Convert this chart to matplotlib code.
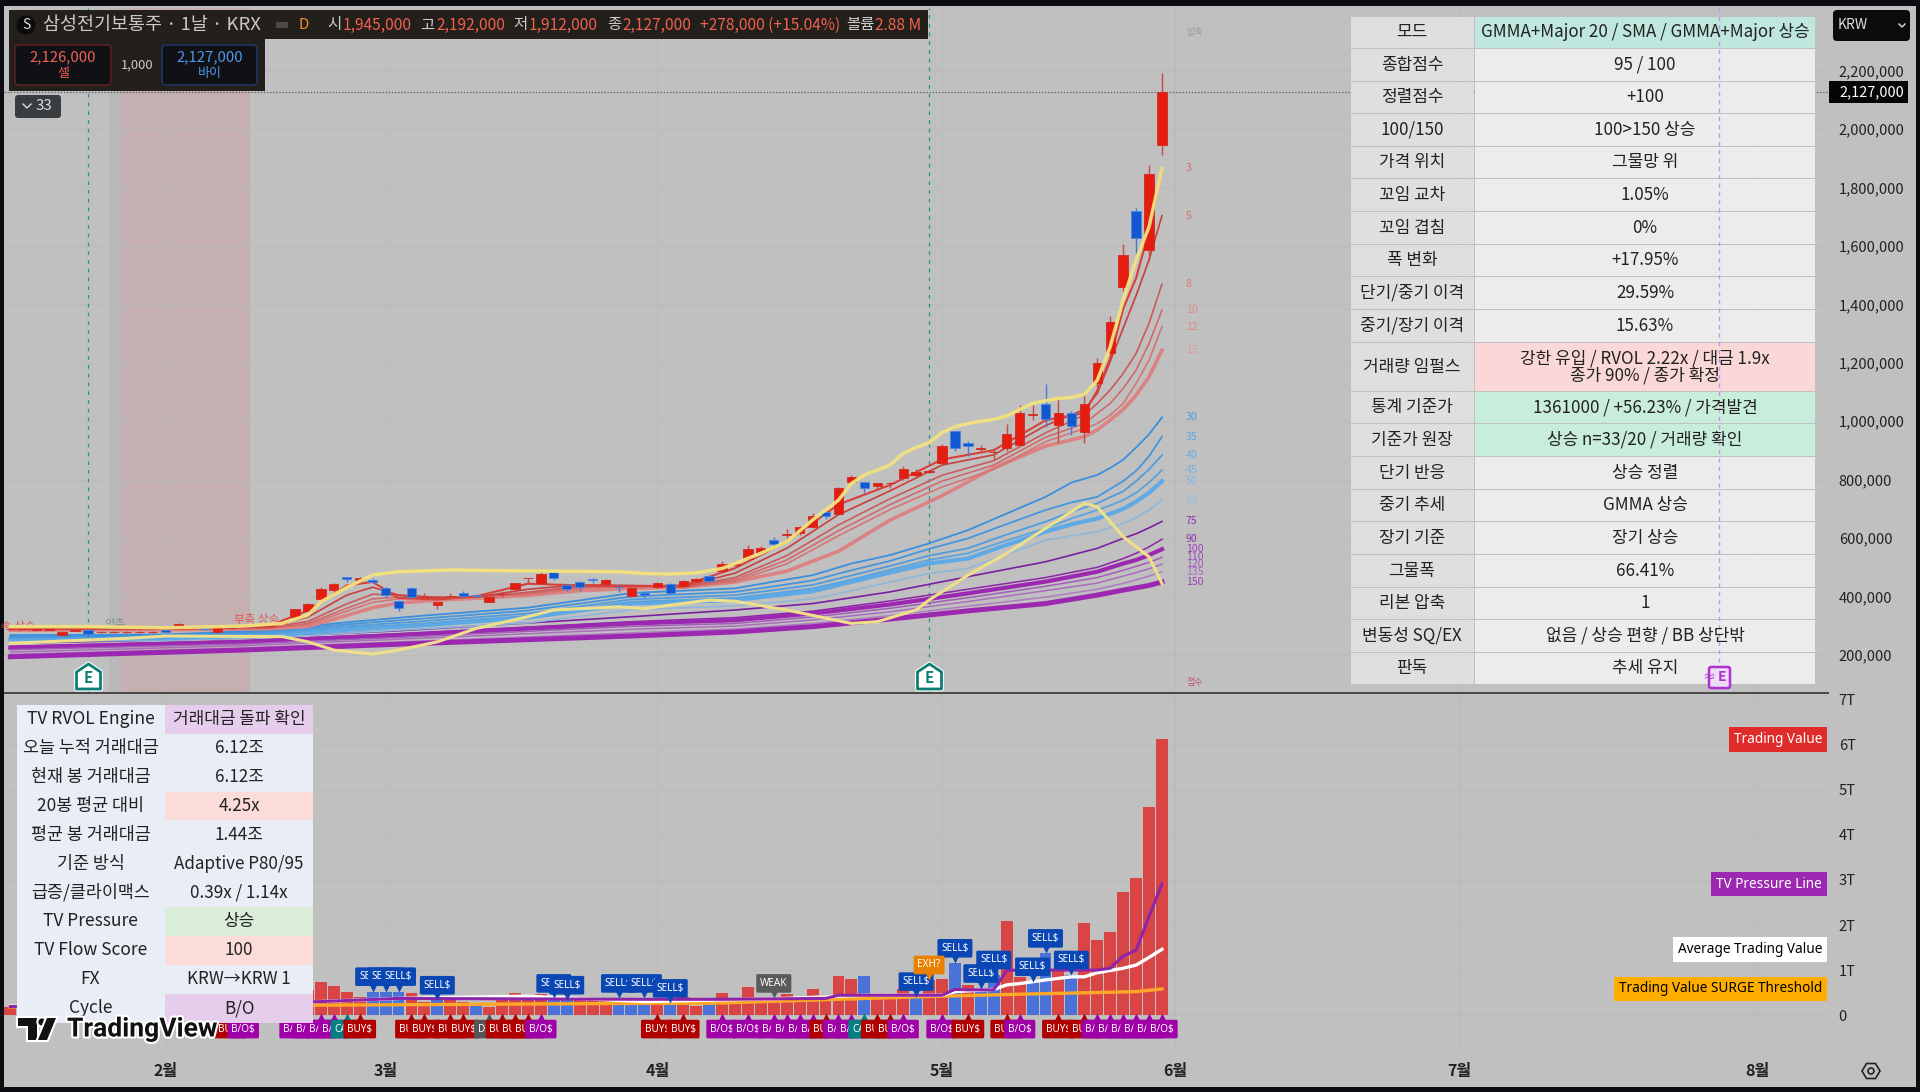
import matplotlib
matplotlib.use("Agg")
import matplotlib.pyplot as plt
import matplotlib.patheffects as pe
from matplotlib.patches import Rectangle, Polygon, Circle, FancyBboxPatch
from matplotlib.transforms import offset_copy

plt.rcParams['font.family'] = ['Noto Sans CJK KR', 'DejaVu Sans']

# candles, thousand KRW
opens = [288,288,287,286,270,283,285,279,279,278,279,278,285,290,291,293,280,293,297,300,299,309,331,352,393,422,466,457,456,428,
         385,428,399,370,402,413,405,382,408,425,462,445,483,440,451,459,443,434,403,413,434,442,437,453,472,487,508,530,548,593,
         612,616,639,688,684,793,791,780,787,804,816,827,856,967,924,904,895,907,920,1022,1058,987,1029,964,1132,1235,1460,1719,1586,1945]
highs = [292,291,290,290,281,287,290,282,281,281,282,282,290,309,297,295,293,301,301,303,304,315,359,378,432,447,466,468,462,433,
         388,433,411,383,411,420,408,401,420,448,465,485,487,443,453,464,460,443,432,420,450,446,456,464,474,520,520,575,572,603,
         630,642,687,692,775,815,793,790,793,846,835,833,922,968,932,918,901,992,1055,1055,1129,1078,1036,1101,1215,1360,1605,1728,1877,2192]
lows = [285,286,285,284,268,281,262,277,277,276,277,276,277,288,289,286,278,291,295,297,297,308,328,350,390,417,450,454,446,400,
        350,397,388,358,390,398,400,380,397,420,445,443,458,420,419,447,440,416,400,396,430,410,433,451,450,481,505,526,543,572,
        601,612,635,665,682,786,753,767,770,800,806,822,853,899,881,895,867,899,918,1004,981,924,952,924,1118,1232,1447,1577,1551,1912]
closes = [290,290,289,288,280,285,272,280,280,280,280,280,280,306,295,288,291,299,299,301,302,312,356,374,425,443,461,464,449,405,
          362,400,400,381,403,402,403,399,409,445,463,477,462,425,434,458,456,433,428,406,445,413,454,461,453,511,513,562,565,580,
          613,637,675,675,770,810,770,787,788,835,827,829,915,907,915,910,896,956,1027,1023,1006,1027,983,1058,1200,1338,1569,1628,1846,2127]

# short ribbon
red_idx = [0,12,20,23,26,28,30,33,36,40,44,48,52,56,60,64,68,72,76,80,83,84,85,86,87,88,89]
ma3 = [290,290,300,352,438,450,395,390,401,444,438,435,438,497,588,715,782,869,901,1003,1028,1105,1215,1385,1490,1650,1865]
ma5 = [290,290,296,330,405,432,405,395,398,425,440,438,435,480,565,680,762,850,885,985,1040,1095,1205,1318,1430,1552,1703]
ma8 = [288,289,294,315,375,408,405,398,398,415,435,437,433,465,540,645,735,815,865,960,1021,1061,1107,1163,1232,1335,1469]
ma10 = [288,288,292,308,360,392,398,398,398,410,432,436,432,458,525,625,715,795,850,945,992,1027,1061,1112,1175,1266,1380]
ma12 = [287,288,291,304,350,380,392,396,398,407,428,434,431,452,512,608,698,775,835,930,975,992,1021,1061,1129,1209,1323]
ma15 = [285,287,290,298,335,362,378,388,394,404,420,428,432,450,487,555,662,745,840,915,947,970,1004,1040,1089,1152,1243]

# mid ribbon
blue_idx = [0,12,20,26,32,40,48,56,59,62,65,68,71,74,77,80,82,84,85,86,87,88,89]
ma30 = [268,270,285,312,335,362,412,428,451,473,513,542,582,627,684,741,790,816,840,868,910,955,1013]
ma35 = [264,266,280,305,325,352,400,416,435,455,490,522,563,599,648,696,722,741,768,795,830,880,947]
ma40 = [260,263,276,298,316,342,390,405,422,440,472,505,540,565,612,656,690,719,740,760,795,835,884]
ma45 = [257,260,272,292,308,334,382,395,411,428,458,492,525,548,592,633,667,696,712,730,755,790,833]
ma50 = [254,257,268,286,302,328,376,388,403,418,450,482,513,530,577,622,647,667,683,700,725,755,795]
ma60 = [248,250,260,275,290,310,355,368,380,392,420,450,479,496,545,593,608,622,636,650,670,697,730]

# long ribbon
purple_idx = [0,18,30,48,56,62,68,74,80,84,86,87,88,89]
ma75 = [240,258,283,331,354,376,416,468,519,565,599,615,635,657]
ma90 = [230,249,273,314,328,350,385,425,465,500,530,548,570,596]
ma100 = [225,245,268,308,319,342,373,411,451,485,513,525,542,562]
ma110 = [218,238,260,298,308,330,360,396,435,465,490,503,517,534]
ma120 = [210,232,254,288,299,320,348,383,420,446,470,482,495,511]
ma135 = [202,224,245,276,289,308,335,367,398,425,445,457,470,485]
ma150 = [194,217,237,265,279,297,323,351,376,405,422,430,438,450]

# yellow lines
upper_idx = [0,6,12,18,21,23,24,26,28,30,34,39,47,49,51,53,55,56,58,60,62,64,65,66,68,69,70,71,72,73,74,75,76,77,78,79,80,81,82,83,84,85,86,87,88,89]
upper = [297,297,293,299,308,337,382,431,474,485,491,488,485,479,477,481,496,513,548,587,662,730,787,816,850,890,910,926,961,981,992,1000,1006,1018,1040,1061,1070,1078,1081,1092,1140,1255,1415,1552,1665,1865]
lower_idx = [0,9,12,21,23,25,28,30,33,36,40,42,47,49,54,56,60,65,67,70,71,74,77,79,83,84,86,88,89]
lower = [240,257,265,263,245,217,203,217,245,291,331,354,365,359,388,384,354,308,314,354,388,473,548,605,719,707,605,536,445]

price_ticks = [200,400,600,800,1000,1200,1400,1600,1800,2000,2200]
month_ticks = [12,29,50,72,90,112,135]
month_labels = ["2월","3월","4월","5월","6월","7월","8월"]

# trading value, trillion KRW
tv_values = [.19,.2,.25,.3,.22,.2,.3,.18,.2,.15,.2,.22,.25,.35,.25,.2,.3,.25,.3,.35,.3,.4,.6,.55,
             .73,.64,.52,.41,.52,.52,.52,.50,.30,.33,.42,.30,.22,.19,.37,.50,.37,.47,.37,.33,.33,.33,.37,.37,.37,.37,
             .30,.26,.41,.21,.24,.50,.27,.63,.37,.37,.47,.37,.58,.44,.87,.81,.87,.44,.47,.59,
             .41,.78,.81,1.15,.67,.59,.89,2.10,.85,.74,1.37,1.0,.89,2.04,1.67,1.84,2.73,3.04,4.61,6.12]
blue_bars = [28,29,30,33,36,42,43,47,48,49,51,54,66,70,73,75,76,79,80,82]
thresh_idx = [0,24,49,54,64,72,79,87,89]
thresh = [.18,.22,.26,.26,.35,.42,.47,.52,.58]
avg_idx = [0,24,30,40,49,54,60,66,72,73,76,77,78,79,80,82,83,84,85,86,87,88,89]
avg_tv = [.2,.30,.37,.42,.30,.33,.37,.44,.44,.52,.57,.67,.70,.74,.78,.85,.85,.94,.99,1.04,1.11,1.28,1.46]
press_idx = [0,24,30,49,55,63,64,72,73,74,76,77,78,80,83,84,85,86,87,88,89]
press = [.19,.30,.37,.35,.35,.37,.44,.44,.57,.56,.56,.99,1.0,1.0,1.0,1.0,1.04,1.31,1.44,2.19,2.91]

sell_tags = [28,29,30,33,42,43,47,49,51,70,73,75,76,79,80,82]
buy_tags = [17,27,31,32,34,35,38,39,40,50,52,63,67,68,74,77,81,83]
bo_tags = [18,22,23,24,25,41,55,57,59,60,61,62,64,65,69,72,78,84,85,86,87,88,89]
teal_tags = [26,66]
grey_tags = [37]

table_rows = [("모드","GMMA+Major 20 / SMA / GMMA+Major 상승"),("종합점수","95 / 100"),("정렬점수","+100"),
              ("100/150","100>150 상승"),("가격 위치","그물망 위"),("꼬임 교차","1.05%"),("꼬임 겹침","0%"),
              ("폭 변화","+17.95%"),("단기/중기 이격","29.59%"),("중기/장기 이격","15.63%"),
              ("거래량 임펄스","강한 유입 / RVOL 2.22x / 대금 1.9x\n종가 90% / 종가 확정"),
              ("통계 기준가","1361000 / +56.23% / 가격발견"),("기준가 원장","상승 n=33/20 / 거래량 확인"),
              ("단기 반응","상승 정렬"),("중기 추세","GMMA 상승"),("장기 기준","장기 상승"),("그물폭","66.41%"),
              ("리본 압축","1"),("변동성 SQ/EX","없음 / 상승 편향 / BB 상단밖"),("판독","추세 유지")]
table_tops = [17,49,82,114,147,179,212,245,277,310,343,392,424,457,490,522,555,588,620,653,685]
table_fill = {0:"#bfe7dd",10:"#fbd8d8",11:"#c9eddb",12:"#c9eddb"}

tv_rows = [("TV RVOL Engine","거래대금 돌파 확인"),("오늘 누적 거래대금","6.12조"),("현재 봉 거래대금","6.12조"),
           ("20봉 평균 대비","4.25x"),("평균 봉 거래대금","1.44조"),("기준 방식","Adaptive P80/95"),
           ("급증/클라이맥스","0.39x / 1.14x"),("TV Pressure","상승"),("TV Flow Score","100"),("FX","KRW→KRW 1"),("Cycle","B/O")]
tv_fill = {0:"#e6cdec",3:"#fbdcd8",7:"#dbeeda",8:"#fbdcd8",10:"#e6cdec"}

W, H = 1920, 1092
GRAY = "#c0c0c0"
fig = plt.figure(figsize=(W/100, H/100), dpi=100, facecolor="#0b0d12")

def px(s):
    return s*72/100

def rect_axes(l, t, r, b, **kw):
    return fig.add_axes([l/W, 1-b/H, (r-l)/W, (b-t)/H], **kw)

bg = fig.add_axes([0,0,1,1], zorder=0)
bg.set_xlim(0,W); bg.set_ylim(H,0); bg.axis("off")
bg.add_patch(Rectangle((4,6),1912,1081,fc=GRAY,ec="none"))

ax = rect_axes(4,8,1829,692,zorder=1,facecolor=GRAY)
sub = rect_axes(4,694,1829,1052,zorder=1,facecolor=GRAY)
ov = fig.add_axes([0,0,1,1], zorder=5)
ov.set_xlim(0,W); ov.set_ylim(H,0); ov.axis("off"); ov.patch.set_alpha(0)

xlim = (-0.49,140.55)
for a in (ax,sub):
    a.set_xlim(*xlim)
    for s in a.spines.values():
        s.set_visible(False)
    a.set_xticks(month_ticks)
    a.grid(True,color="#b9b9b9",lw=0.6,zorder=0)
    a.set_axisbelow(True)
    a.yaxis.tick_right()

# main pane
ax.set_ylim(73.4,2414)
ax.set_yticks(price_ticks)
ax.set_yticklabels([f"{p*1000:,}" for p in price_ticks],fontsize=px(14.7),color="#222")
ax.tick_params(axis="both",length=0)
ax.tick_params(axis="y",pad=7)
ax.tick_params(axis="x",labelbottom=False)

ax.axvspan(7.63,8.63,color="#b8b8b8",lw=0,zorder=0.5)
ax.axvspan(8.63,18.52,color="#c4b0b0",lw=0,zorder=0.5)
ax.axhline(closes[-1],color="#555555",lw=0.9,ls=(0,(1,1.5)),zorder=1)
for vx in (6,71):
    ax.axvline(vx,color="#2f8f7f",lw=0.9,ls=(0,(3,4)),zorder=1)

ax.plot(purple_idx,ma75,color="#7b1fa2",lw=1.2,zorder=2)
ax.plot(purple_idx,ma90,color="#8e24aa",lw=1.1,zorder=2)
ax.plot(purple_idx,ma100,color="#9c27b0",lw=3,zorder=2)
ax.plot(purple_idx,ma110,color="#a45cb8",lw=1.1,zorder=2)
ax.plot(purple_idx,ma120,color="#ab6cbc",lw=1.1,zorder=2)
ax.plot(purple_idx,ma135,color="#b07cc0",lw=1.1,zorder=2)
ax.plot(purple_idx,ma150,color="#9c27b0",lw=3.6,zorder=2)

ax.plot(blue_idx,ma60,color="#8fb8d8",lw=1.2,zorder=3)
ax.plot(blue_idx,ma50,color="#5faae6",lw=3,zorder=3)
ax.plot(blue_idx,ma45,color="#5aa4de",lw=1.3,zorder=3)
ax.plot(blue_idx,ma40,color="#4f9cde",lw=1.3,zorder=3)
ax.plot(blue_idx,ma35,color="#4596dc",lw=1.3,zorder=3)
ax.plot(blue_idx,ma30,color="#3b8fdc",lw=1.3,zorder=3)

ax.plot(lower_idx,lower,color="#eee08a",lw=2.2,zorder=3.5)

ax.plot(red_idx,ma15,color="#dc8282",lw=2.6,zorder=4)
ax.plot(red_idx,ma12,color="#d67474",lw=1.2,zorder=4)
ax.plot(red_idx,ma10,color="#d26a6a",lw=1.2,zorder=4)
ax.plot(red_idx,ma8,color="#cc5a5a",lw=1.2,zorder=4)
ax.plot(red_idx,ma5,color="#c8403c",lw=1.2,zorder=4)
ax.plot(red_idx,ma3,color="#d8403a",lw=1.5,zorder=4)

# candles
up = [c >= o for o,c in zip(opens,closes)]
idx = list(range(len(closes)))
for i in idx:
    ax.vlines(i,lows[i],highs[i],color="#c94a44" if up[i] else "#3f7ddc",lw=1,zorder=5)
    bot = min(opens[i],closes[i])
    ax.bar(i,abs(closes[i]-opens[i]),bottom=bot,width=0.72,color="#e51d10" if up[i] else "#1358d0",
           edgecolor="#d02a20" if up[i] else "#4a86e0",lw=0.6,zorder=5.5)

ax.plot(upper_idx,upper,color="#f1e27e",lw=2.5,alpha=0.95,zorder=6)

ma_labels = [("3",ma3,"#d96a62"),("5",ma5,"#d96a62"),("8",ma8,"#d97a72"),("10",ma10,"#dd8a84"),("12",ma12,"#dd8a84"),("15",ma15,"#e09a96"),
             ("30",ma30,"#4f9fe6"),("35",ma35,"#5aa6e6"),("40",ma40,"#66ace6"),("45",ma45,"#74b2e6"),("50",ma50,"#7fb8e6"),("60",ma60,"#8cbce2"),
             ("75",ma75,"#8a2fb0"),("90",ma90,"#8f35b2"),("100",ma100,"#9a42b8"),("110",ma110,"#a04cba"),("120",ma120,"#a65abe"),("135",ma135,"#ac6ac2"),("150",ma150,"#a040b8")]
for name,series,c in ma_labels:
    ax.text(90.85,series[-1],name,fontsize=px(10.5),color=c,va="center",ha="left",zorder=7,clip_on=True)

# sub pane
sub.set_ylim(-0.82,7.13)
sub.set_yticks(range(8))
sub.set_yticklabels(["0"]+[f"{v}T" for v in range(1,8)],fontsize=px(14.7),color="#222")
sub.set_xticklabels(month_labels,fontsize=px(16),fontweight="bold",color="#222")
sub.tick_params(axis="both",length=0)
sub.tick_params(axis="y",pad=7)
sub.tick_params(axis="x",pad=8)

colors = ["#4a72d8" if i in blue_bars else "#d94545" for i in idx]
sub.bar(idx,tv_values,width=0.92,color=colors,zorder=2)
sub.plot(thresh_idx,thresh,color="#ffa726",lw=2.4,zorder=3)
sub.plot(avg_idx,avg_tv,color="#ffffff",lw=2.4,zorder=3.1)
sub.plot(press_idx,press,color="#8e24aa",lw=2.2,zorder=3.2)

# right side end labels
for val,txt,fc,tc in [(tv_values[-1],"Trading Value","#e02b2b","white"),(press[-1],"TV Pressure Line","#9c27b0","white"),
                      (avg_tv[-1],"Average Trading Value","white","black"),(thresh[-1],"Trading Value SURGE Threshold","#ffae00","black")]:
    sub.text(140.0,val,txt,fontsize=px(13.6),family=["Noto Sans","DejaVu Sans"],color=tc,ha="right",va="center",zorder=6,
             bbox=dict(boxstyle="square,pad=0.36",fc=fc,ec="none"))

def add_tag(i,v,text,fc,above,z):
    dy = 15 if above else -14
    tip = 5 if above else -3
    off = offset_copy(sub.transData,fig=fig,y=tip,units="dots")
    sub.plot([i],[v],marker="v" if above else "^",ms=7,color=fc,mec="none",transform=off,zorder=z,clip_on=False)
    sub.annotate(text,(i,v),xytext=(0,px(dy)),textcoords="offset points",ha="center",va="center",color="white",
                 fontsize=px(10),family=["Noto Sans","DejaVu Sans"],zorder=z,annotation_clip=False,
                 bbox=dict(boxstyle="round,pad=0.38,rounding_size=0.15",fc=fc,ec="none"))

bottom = [(i,"BUY$","#b00000") for i in buy_tags]+[(i,"B/O$","#a000a8") for i in bo_tags]+\
         [(i,"CAP$","#008080") for i in teal_tags]+[(i,"DIV$","#555555") for i in grey_tags]
bottom.sort(key=lambda t:t[0])
z = 10
for i,t,c in bottom:
    add_tag(i,0,t,c,False,z)
    z += 0.01
for i in sell_tags:
    add_tag(i,tv_values[i],"SELL$","#0a47b4",True,z)
    z += 0.01
add_tag(59,tv_values[59],"WEAK","#5a5a5a",True,z)
add_tag(71,tv_values[71],"EXH?","#ea8000",True,z+0.01)

# side texts
ax.text(0.6,299,"속 상승",fontsize=px(11.5),color="#e0584e",ha="center",va="center",zorder=4.5)
ax.text(19.0,320,"부축 상승",fontsize=px(11.5),color="#e0584e",ha="center",va="center",zorder=4.5)
ax.text(8.1,303,"압축",fontsize=px(11.5),color="#8a8a8a",ha="center",va="center",zorder=4.5)
ov.text(1195,33,"압축",fontsize=px(9),color="#9a9a9a",ha="center",va="center")
ov.text(1195,683,"점수",fontsize=px(9),color="#c2506a",ha="center",va="center")

# frame bits
ov.add_patch(Rectangle((4,692),1825,2,fc="#4a4a4a",ec="none"))

# main table
for r,(a_txt,b_txt) in enumerate(table_rows):
    t,b = table_tops[r],table_tops[r+1]-1.5
    ov.add_patch(Rectangle((1351,t),122.5,b-t,fc="#dfdfdf",ec="none"))
    ov.add_patch(Rectangle((1475,t),340,b-t,fc=table_fill.get(r,"#ececec"),ec="none"))
    ov.text(1412,(t+b)/2,a_txt,fontsize=px(17),color="#222",ha="center",va="center")
    ov.text(1645,(t+b)/2,b_txt,fontsize=px(17),color="#222",ha="center",va="center",linespacing=0.9)

# tv table
for r,(a_txt,b_txt) in enumerate(tv_rows):
    t = 705+r*28.87
    ov.add_patch(Rectangle((16.5,t),148.5,28.87,fc="#e9edf5",ec="none"))
    ov.add_patch(Rectangle((165,t),148,28.87,fc=tv_fill.get(r,"#e9edf5"),ec="none"))
    ov.text(90.5,t+14.4,a_txt,fontsize=px(17.4),color="#222",ha="center",va="center")
    ov.text(239,t+14.4,b_txt,fontsize=px(17),color="#222",ha="center",va="center")

# header
DARK = "#231f1a"
ov.add_patch(Rectangle((9,10),919,29,fc=DARK,ec="none",zorder=3))
ov.add_patch(Rectangle((9,39),256,52,fc=DARK,ec="none",zorder=3))
ov.add_patch(Circle((26,25),9.5,fc="#0b0b0b",ec="none",zorder=3.1))
ov.text(26,25,"S",fontsize=px(14),color="#ddd",ha="center",va="center",zorder=4)
ov.text(43,25,"삼성전기보통주 · 1날 · KRX",fontsize=px(18.5),color="#c9c9c9",ha="left",va="center",zorder=4)
ov.add_patch(Rectangle((276,22),12,6,fc="#4a4a4a",ec="none",zorder=3.5))
ov.text(304,25,"D",fontsize=px(15),color="#f0922c",ha="center",va="center",zorder=4)
REDT = "#f2604f"
for hx,txt,c in [(327,"시","#ccc"),(343,"1,945,000",REDT),(420,"고","#ccc"),(436,"2,192,000",REDT),(513,"저","#ccc"),(529,"1,912,000",REDT),
                 (607,"종","#ccc"),(622,"2,127,000",REDT),(700,"+278,000 (+15.04%)",REDT),(846,"볼륨","#ccc"),(875,"2.88 M",REDT)]:
    ov.text(hx,25,txt,fontsize=px(15.5),color=c,ha="left",va="center",zorder=4)

for l,r_,ec,c,price,word in [(15,111,"#5a1f22","#f0605a","2,126,000","셀"),(162,257,"#1f3560","#4f95ee","2,127,000","바이")]:
    ov.add_patch(FancyBboxPatch((l,45),r_-l,40,boxstyle="round,pad=0,rounding_size=4",fc="#101114",ec=ec,lw=1.2,zorder=3.5))
    ov.text((l+r_)/2,57,price,fontsize=px(15),color=c,ha="center",va="center",zorder=4)
    ov.text((l+r_)/2,74,word,fontsize=px(13),color=c,ha="center",va="center",zorder=4)
ov.text(137,65,"1,000",fontsize=px(13),color="#ccc",ha="center",va="center",zorder=4)

ov.add_patch(FancyBboxPatch((15,95),46,23,boxstyle="round,pad=0,rounding_size=3",fc="#3a3d40",ec="none",zorder=3))
ov.plot([23,27,31],[104,108,104],color="#ddd",lw=1,zorder=4)
ov.text(44,106,"33",fontsize=px(15),color="#ddd",ha="center",va="center",zorder=4)

# axis widgets
ov.add_patch(FancyBboxPatch((1833,10),77,31,boxstyle="round,pad=0,rounding_size=4",fc="#0b0b0d",ec="none",zorder=3))
ov.text(1838,25,"KRW",fontsize=px(14),color="#ddd",ha="left",va="center",zorder=4)
ov.plot([1899,1902,1905],[24,27,24],color="#ddd",lw=1,zorder=4)
ov.add_patch(Rectangle((1829,81),79,22,fc="#050505",ec="none",zorder=3))
ov.text(1839,92,f"{closes[-1]*1000:,}",fontsize=px(14.5),color="white",ha="left",va="center",zorder=4)

# purple marker line runs over the table
ov.plot([1719,1719],[8,666],color="#cf8fe6",lw=1,ls=(0,(3,3)),zorder=2)

def badge(cx,fc,ec,txt):
    ov.add_patch(Polygon([(cx-12,689),(cx+12,689),(cx+12,672),(cx,664),(cx-12,672)],closed=True,fc=fc,ec=ec,lw=2,joinstyle="round",zorder=4,
                         path_effects=[pe.withStroke(linewidth=3.5,foreground="white")]))
    ov.text(cx,678,txt,fontsize=px(15),color=ec,ha="center",va="center",fontweight="bold",zorder=5)
badge(88.5,"white","#0b7f72","E")
badge(929.5,"white","#0b7f72","E")
ov.add_patch(FancyBboxPatch((1709,667),21,21,boxstyle="round,pad=0,rounding_size=2",fc="#ecdcf4",ec="#b030d0",lw=1.8,zorder=4))
ov.text(1722,677,"E",fontsize=px(14),color="#b030d0",ha="center",va="center",fontweight="bold",zorder=5)
ov.text(1709,678,"≈",fontsize=px(13),color="#b030d0",ha="center",va="center",zorder=5)

# settings icon
ov.add_patch(Polygon([(1862,1071),(1866.5,1063.5),(1875.5,1063.5),(1880,1071),(1875.5,1078.5),(1866.5,1078.5)],closed=True,fc="none",ec="#222",lw=1.2))
ov.add_patch(Circle((1871,1071),3,fc="none",ec="#222",lw=1.2))

# logo
halo = [pe.withStroke(linewidth=3,foreground="white")]
ov.add_patch(Polygon([(18,1018),(37,1018),(37,1040),(28,1040),(28,1026),(18,1026)],closed=True,fc="#111",ec="none",zorder=6,path_effects=halo))
ov.add_patch(Circle((42,1022),3.6,fc="#111",ec="none",zorder=6,path_effects=halo))
ov.add_patch(Polygon([(47,1018),(56,1018),(47,1040),(38,1040)],closed=True,fc="#111",ec="none",zorder=6,path_effects=halo))
ov.text(67,1029,"TradingView",fontsize=px(26.5),family=["Roboto","DejaVu Sans"],fontweight="bold",color="#111",ha="left",va="center",zorder=7,
        path_effects=[pe.withStroke(linewidth=3,foreground="white")])

fig.savefig("out.png",dpi=100,facecolor=fig.get_facecolor())
